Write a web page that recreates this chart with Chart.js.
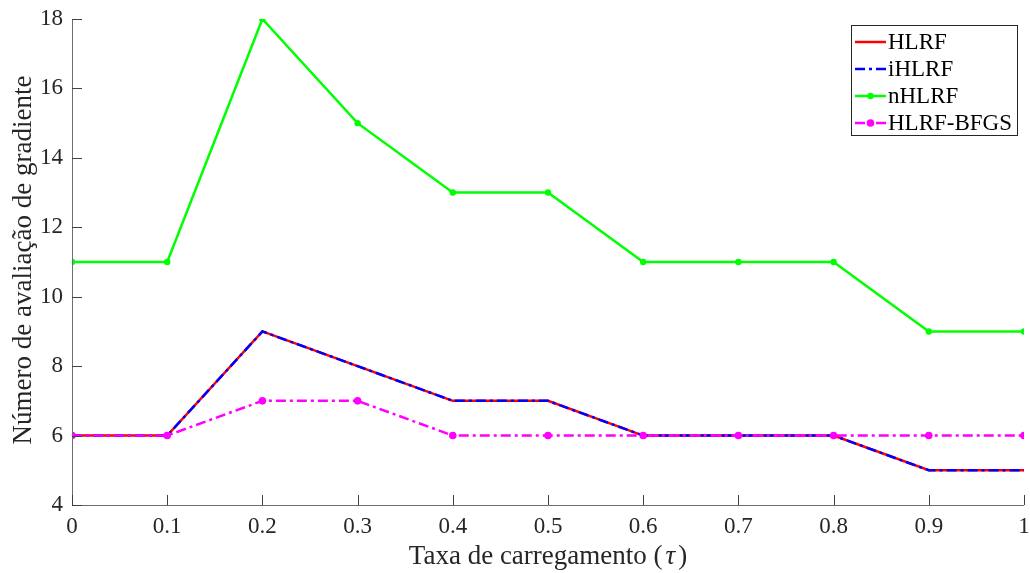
<!DOCTYPE html>
<html>
<head>
<meta charset="utf-8">
<script src="https://cdn.jsdelivr.net/npm/chart.js@4"></script>
<style>
  html, body { margin: 0; padding: 0; background: #fff; }
  #wrap { width: 1030px; height: 573px; }
</style>
</head>
<body>
<div id="wrap"><canvas id="c" width="1030" height="573"></canvas></div>
<script>
// Load rate (tau) and gradient evaluation counts per method
const tau = [0, 0.1, 0.2, 0.3, 0.4, 0.5, 0.6, 0.7, 0.8, 0.9, 1];
const hlrf = [6, 6, 9, 8, 7, 7, 6, 6, 6, 5, 5];
const ihlrf = [6, 6, 9, 8, 7, 7, 6, 6, 6, 5, 5];
const nhlrf = [11, 11, 18, 15, 13, 13, 11, 11, 11, 9, 9];
const hlrfBfgs = [6, 6, 7, 7, 6, 6, 6, 6, 6, 6, 6];
const yTicks = [4, 6, 8, 10, 12, 14, 16, 18];
const xTicks = [0, 0.1, 0.2, 0.3, 0.4, 0.5, 0.6, 0.7, 0.8, 0.9, 1];

const FONT = '"Liberation Serif", "Times New Roman", serif';
const AXIS = '#6e6e6e';
const TEXT = '#262626';
const DASHDOT = [10, 4, 3, 4];

const pts = arr => arr.map((v, i) => ({ x: tau[i], y: v }));

const datasets = [
  { label: 'HLRF', data: pts(hlrf), borderColor: '#ff0000', borderWidth: 2.5,
    pointRadius: 0, order: 4 },
  { label: 'iHLRF', data: pts(ihlrf), borderColor: '#0000ff', borderWidth: 2.5,
    borderDash: DASHDOT, pointRadius: 0, order: 3 },
  { label: 'nHLRF', data: pts(nhlrf), borderColor: '#00ff00', borderWidth: 2.5,
    pointRadius: 3.2, pointBackgroundColor: '#00ff00', pointBorderWidth: 0, order: 2 },
  { label: 'HLRF-BFGS', data: pts(hlrfBfgs), borderColor: '#ff00ff', borderWidth: 2.5,
    borderDash: DASHDOT, pointRadius: 3.8, pointBackgroundColor: '#ff00ff',
    pointBorderWidth: 0, order: 1 }
];

// Inward ticks, axis lines, titles and the boxed legend
const decor = {
  id: 'decor',
  afterDraw(chart) {
    const { ctx, chartArea: a, scales: { x, y } } = chart;
    ctx.save();
    ctx.strokeStyle = AXIS;
    ctx.lineWidth = 1;
    ctx.beginPath();
    ctx.moveTo(a.left + 0.5, a.top);
    ctx.lineTo(a.left + 0.5, a.bottom + 0.5);
    ctx.lineTo(a.right, a.bottom + 0.5);
    ctx.stroke();
    ctx.strokeStyle = '#404040';
    ctx.beginPath();
    xTicks.forEach(v => {
      const px = Math.round(x.getPixelForValue(v)) + 0.5;
      ctx.moveTo(px, a.bottom);
      ctx.lineTo(px, a.bottom - 10);
    });
    yTicks.forEach(v => {
      const py = Math.round(y.getPixelForValue(v)) + 0.5;
      ctx.moveTo(a.left, py);
      ctx.lineTo(a.left + 10, py);
    });
    ctx.stroke();

    // axis titles
    ctx.fillStyle = TEXT;
    ctx.textBaseline = 'middle';
    const main = 'Taxa de carregamento (';
    const tauS = 'τ';
    const close = ')';
    const TS = 27;
    ctx.font = TS + 'px ' + FONT;
    const w1 = ctx.measureText(main).width;
    const w3 = ctx.measureText(close).width;
    ctx.font = 'italic ' + TS + 'px ' + FONT;
    const w2 = ctx.measureText(tauS).width;
    const gap = 3;
    const cx = (a.left + a.right) / 2;
    const sx = cx - (w1 + w2 + w3 + 2 * gap) / 2;
    const ty = 557;
    ctx.textAlign = 'left';
    ctx.font = TS + 'px ' + FONT;
    ctx.fillText(main, sx, ty);
    ctx.font = 'italic ' + TS + 'px ' + FONT;
    ctx.fillText(tauS, sx + w1 + gap, ty);
    ctx.font = TS + 'px ' + FONT;
    ctx.fillText(close, sx + w1 + w2 + 2 * gap, ty);

    ctx.save();
    ctx.translate(24, 260);
    ctx.rotate(-Math.PI / 2);
    ctx.textAlign = 'center';
    ctx.font = TS + 'px ' + FONT;
    ctx.fillText('Número de avaliação de gradiente', 0, 0);
    ctx.restore();

    // legend
    const bx = 851.5, by = 25.5, bw = 166, bh = 110;
    ctx.fillStyle = '#fff';
    ctx.fillRect(bx, by, bw, bh);
    ctx.strokeStyle = '#262626';
    ctx.lineWidth = 1;
    ctx.strokeRect(bx, by, bw, bh);
    const rowY = [42, 69, 96, 123];
    datasets.forEach((d, i) => {
      const yy = rowY[i];
      ctx.strokeStyle = d.borderColor;
      ctx.lineWidth = 2.5;
      ctx.setLineDash(d.borderDash || []);
      ctx.beginPath();
      ctx.moveTo(855, yy);
      ctx.lineTo(886, yy);
      ctx.stroke();
      ctx.setLineDash([]);
      if (d.pointRadius > 0) {
        ctx.fillStyle = d.pointBackgroundColor;
        ctx.beginPath();
        ctx.arc(870.5, yy, d.pointRadius, 0, Math.PI * 2);
        ctx.fill();
      }
      ctx.fillStyle = '#000';
      ctx.font = '23px ' + FONT;
      ctx.textAlign = 'left';
      ctx.textBaseline = 'middle';
      ctx.fillText(d.label, 888, yy + 1);
    });
    ctx.restore();
  }
};

new Chart(document.getElementById('c'), {
  type: 'line',
  data: { datasets },
  options: {
    responsive: false,
    animation: false,
    layout: { padding: { top: 19, right: 6, left: 0, bottom: 0 } },
    plugins: { legend: { display: false }, tooltip: { enabled: false } },
    scales: {
      x: {
        type: 'linear', min: 0, max: 1,
        afterBuildTicks: s => { s.ticks = xTicks.map(v => ({ value: v })); },
        afterFit: s => { s.height = 68; s.paddingLeft = 0; s.paddingRight = 0; },
        grid: { display: false, drawTicks: false },
        border: { display: false },
        ticks: {
          color: TEXT, font: { family: FONT, size: 23 }, padding: 8,
          maxRotation: 0, autoSkip: false,
          callback: v => String(v)
        }
      },
      y: {
        type: 'linear', min: 4, max: 18,
        afterBuildTicks: s => { s.ticks = yTicks.map(v => ({ value: v })); },
        afterFit: s => { s.width = 72; s.paddingTop = 0; s.paddingBottom = 0; },
        grid: { display: false, drawTicks: false },
        border: { display: false },
        ticks: {
          color: TEXT, font: { family: FONT, size: 23 }, padding: 9,
          callback: v => String(v)
        }
      }
    }
  },
  plugins: [decor]
});
</script>
</body>
</html>
